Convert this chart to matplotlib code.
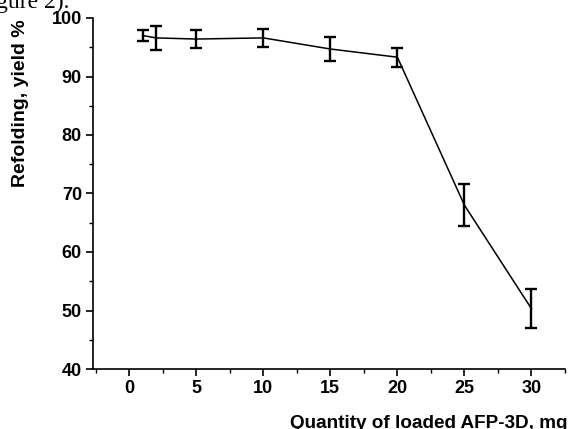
import matplotlib
matplotlib.use('Agg')
import matplotlib.pyplot as plt
from matplotlib.ticker import MultipleLocator

# data
quantity_mg = [1, 2, 5, 10, 15, 20, 25, 30]
yield_pct = [97.0, 96.6, 96.4, 96.6, 94.7, 93.3, 68.0, 50.3]
yield_err = [1.0, 2.1, 1.5, 1.5, 2.0, 1.6, 3.6, 3.3]
x_ticks = [0, 5, 10, 15, 20, 25, 30]
y_ticks = [40, 50, 60, 70, 80, 90, 100]

W, H = 569, 429
fig = plt.figure(figsize=(W / 100, H / 100), dpi=100)
ax = fig.add_axes([93 / W, 1 - 369 / H, (565 - 93) / W, (369 - 18) / H])

ax.plot(quantity_mg, yield_pct, color='black', linewidth=1.1)
ax.errorbar(quantity_mg, yield_pct, yerr=yield_err, fmt='none', ecolor='black',
            elinewidth=1.7, capsize=4, capthick=1.7)

ax.set_xlim(-2.7, 32.5)
ax.set_ylim(40, 100)
ax.set_xticks(x_ticks)
ax.set_yticks(y_ticks)
ax.xaxis.set_minor_locator(MultipleLocator(2.5))
ax.yaxis.set_minor_locator(MultipleLocator(5))

for s in ['top', 'right']:
    ax.spines[s].set_visible(False)
for s in ['left', 'bottom']:
    ax.spines[s].set_linewidth(1.2)

ax.tick_params(which='major', direction='out', length=5, width=1.2, pad=3)
ax.tick_params(which='minor', direction='out', length=3, width=1.0)
for lab in ax.get_xticklabels() + ax.get_yticklabels():
    lab.set_fontfamily('Liberation Sans')
    lab.set_fontweight('bold')
    lab.set_fontsize(13)

fig.text(21 / W, 1 - 103 / H, 'Refolding, yield %', rotation=90, ha='center', va='center',
         family='Liberation Sans', fontweight='bold', fontsize=14)
fig.text(290 / W, 1 - 427.5 / H, 'Quantity of loaded AFP-3D, mg', ha='left', va='baseline',
         family='Liberation Sans', fontweight='bold', fontsize=13.6)
# page text cut at the top edge
fig.text(-4 / W, 1 - 8 / H, 'gure 2).', ha='left', va='baseline',
         family='Liberation Serif', fontsize=17)

fig.savefig('out.png', dpi=100)
